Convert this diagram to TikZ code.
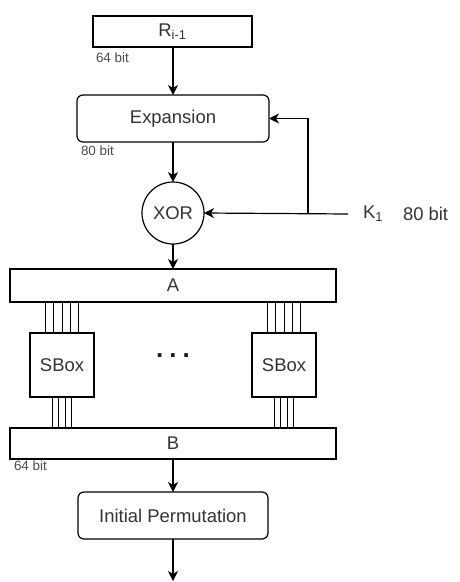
\documentclass[tikz,border=0pt]{standalone}
\usepackage{fontspec}
\setmainfont{Liberation Sans}
\usetikzlibrary{arrows.meta}
\begin{document}
\begin{tikzpicture}[x=1bp,y=-1bp,
  line width=1.2bp,
  every node/.style={inner sep=0pt, outer sep=0pt},
  main/.style={font=\fontsize{18.5}{20}\selectfont, text=black!80},
  small/.style={font=\fontsize{13.5}{15}\selectfont, text=black!70},
  boxr/.style={draw, main, rectangle},
  rbox/.style={draw, main, rectangle, rounded corners=6bp},
  arr/.style={-{Stealth[length=10bp,width=10bp,inset=3bp]}},
  wire/.style={line width=1bp}
]
\useasboundingbox (0,0) rectangle (460,582);

\node[boxr, minimum width=159bp, minimum height=31bp] (r) at (172.5,31.5) {R\textsubscript{i-1}};
\node[small, anchor=north west] (r64) at (96,53) {64 bit};

\node[rbox, minimum width=192bp, minimum height=47bp] (exp) at (173,118.5) {Expansion};
\node[small, anchor=north west] (e80) at (81,146) {80 bit};

\node[draw, circle, main, minimum size=62bp] (xor) at (173,213) {XOR};

\node[main, anchor=west] (k) at (363,214) {K\textsubscript{1}};
\node[main, anchor=west] (k80) at (403,214) {80 bit};
\coordinate (ks) at (348,214);
\coordinate (kj) at (308,214);

\node[boxr, minimum width=326bp, minimum height=33bp] (a) at (173,285.5) {A};

\node[boxr, minimum width=64bp, minimum height=64bp] (sl) at (62,365) {SBox};
\node[boxr, minimum width=64bp, minimum height=64bp] (sr) at (284,365) {SBox};
\node[font=\bfseries\fontsize{26}{26}\selectfont, text=black!90] (dots) at (173,356) {.\hspace{6bp}.\hspace{6bp}.};

\node[boxr, minimum width=326bp, minimum height=31bp] (b) at (173,443.5) {B};
\node[small, anchor=north west] (b64) at (14,461) {64 bit};

\node[rbox, minimum width=190bp, minimum height=47bp] (ip) at (173,515.5) {Initial Permutation};
\coordinate (out) at (173,581);

% connectors
\draw[arr] (r.south -| exp.north) -- (exp.north);
\draw[arr] (exp.south) -- (xor.north);
\draw[arr] (xor.south) -- (a.north);
\draw[arr] (ks) -- (xor.east);
\draw[arr] (kj) -- (kj |- exp.east) -- (exp.east);
\draw[arr] (b.south) -- (ip.north);
\draw[arr] (ip.south) -- (out);

% wires A -> SBoxes
\foreach \s in {sl,sr}{
  \foreach \dx in {-16.5,-8.25,0,8.25,16.5}{
    \draw[wire] ([xshift=\dx bp]\s.north) -- ([xshift=\dx bp]\s.north |- a.south);
  }
  \foreach \dx in {-9.75,-3.25,3.25,9.75}{
    \draw[wire] ([xshift=\dx bp]\s.south) -- ([xshift=\dx bp]\s.south |- b.north);
  }
}
\end{tikzpicture}
\end{document}
